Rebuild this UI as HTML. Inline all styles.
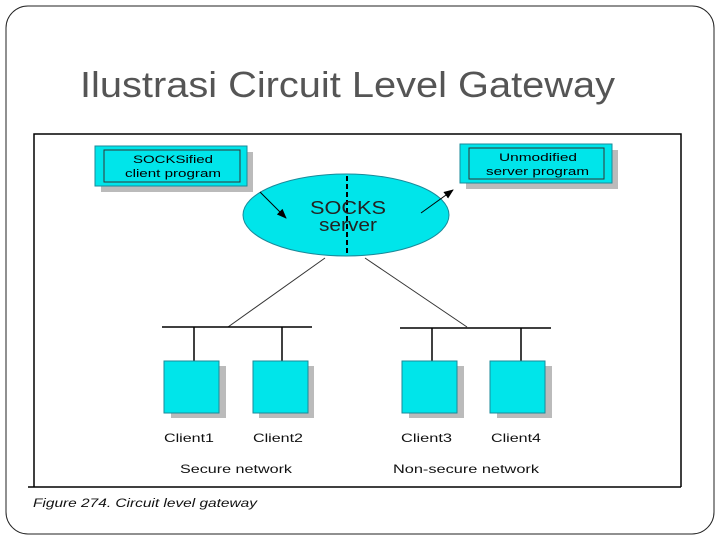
<!DOCTYPE html>
<html><head><style>body{margin:0;background:#fff}svg{display:block}</style></head><body>
<svg width="720" height="540" viewBox="0 0 720 540" xmlns="http://www.w3.org/2000/svg" font-family="Liberation Sans, sans-serif">
<defs><marker id="a" markerWidth="10" markerHeight="8" refX="9" refY="4" orient="auto" markerUnits="userSpaceOnUse"><path d="M0,0 L10,4 L0,8z" fill="#000"/></marker></defs>
<rect x="6" y="6" width="708" height="528" rx="22" fill="#fff" stroke="#222" stroke-width="1"/>
<text x="80" y="97" font-size="36" fill="#555" textLength="535" lengthAdjust="spacingAndGlyphs">Ilustrasi Circuit Level Gateway</text>
<path d="M34,487 V134 H681 V487" fill="none" stroke="#000" stroke-width="1.5"/>
<line x1="28" y1="487" x2="681" y2="487" stroke="#000" stroke-width="1.5"/>
<rect x="101" y="152" width="152" height="40" fill="#bbb"/>
<rect x="95" y="146" width="152" height="40" fill="#00e5ea" stroke="#1a8a9a"/>
<rect x="104" y="150" width="136" height="32" fill="none" stroke="#333"/>
<text x="133" y="163" font-size="11" textLength="80" lengthAdjust="spacingAndGlyphs">SOCKSified</text>
<text x="125" y="177" font-size="11" textLength="96" lengthAdjust="spacingAndGlyphs">client program</text>
<rect x="466" y="150" width="152" height="39" fill="#bbb"/>
<rect x="460" y="144" width="152" height="39" fill="#00e5ea" stroke="#1a8a9a"/>
<rect x="469" y="148" width="135" height="31" fill="none" stroke="#333"/>
<text x="499" y="161" font-size="11" textLength="78" lengthAdjust="spacingAndGlyphs">Unmodified</text>
<text x="486" y="175" font-size="11" textLength="103" lengthAdjust="spacingAndGlyphs">server program</text>
<ellipse cx="346" cy="215" rx="103" ry="41" fill="#00e5ea" stroke="#1a8a9a"/>
<line x1="347" y1="176" x2="347" y2="256" stroke="#000" stroke-width="2" stroke-dasharray="5,3"/>
<text x="310" y="214" font-size="18" fill="#222" textLength="76" lengthAdjust="spacingAndGlyphs">SOCKS</text>
<text x="319" y="231" font-size="18" fill="#222" textLength="58" lengthAdjust="spacingAndGlyphs">server</text>
<line x1="260" y1="192" x2="286" y2="218" stroke="#000" marker-end="url(#a)"/>
<line x1="421" y1="213" x2="453" y2="190" stroke="#000" marker-end="url(#a)"/>
<g stroke="#333"><line x1="325" y1="258" x2="228" y2="327"/><line x1="365" y1="258" x2="467" y2="327"/></g>
<g stroke="#000" stroke-width="1.5">
<line x1="162" y1="327" x2="312" y2="327"/><line x1="400" y1="328" x2="551" y2="328"/>
<line x1="194" y1="327" x2="194" y2="361"/><line x1="282" y1="327" x2="282" y2="361"/>
<line x1="432" y1="328" x2="432" y2="361"/><line x1="521" y1="328" x2="521" y2="361"/></g>
<g fill="#bbb"><rect x="171" y="366" width="55" height="52"/><rect x="259" y="366" width="55" height="52"/><rect x="409" y="366" width="55" height="52"/><rect x="497" y="366" width="55" height="52"/></g>
<g fill="#00e5ea" stroke="#1a8a9a"><rect x="164" y="361" width="55" height="52"/><rect x="253" y="361" width="55" height="52"/><rect x="402" y="361" width="55" height="52"/><rect x="490" y="361" width="55" height="52"/></g>
<g font-size="12" fill="#111" lengthAdjust="spacingAndGlyphs">
<text x="164" y="442" textLength="50" lengthAdjust="spacingAndGlyphs">Client1</text>
<text x="253" y="442" textLength="50" lengthAdjust="spacingAndGlyphs">Client2</text>
<text x="401" y="442" textLength="51" lengthAdjust="spacingAndGlyphs">Client3</text>
<text x="491" y="442" textLength="50" lengthAdjust="spacingAndGlyphs">Client4</text>
<text x="180" y="473" textLength="112" lengthAdjust="spacingAndGlyphs">Secure network</text>
<text x="393" y="473" textLength="146" lengthAdjust="spacingAndGlyphs">Non-secure network</text></g>
<text x="33" y="507" font-size="11.5" font-style="italic" fill="#111" textLength="224" lengthAdjust="spacingAndGlyphs">Figure 274.  Circuit level gateway</text>
</svg>
</body></html>
